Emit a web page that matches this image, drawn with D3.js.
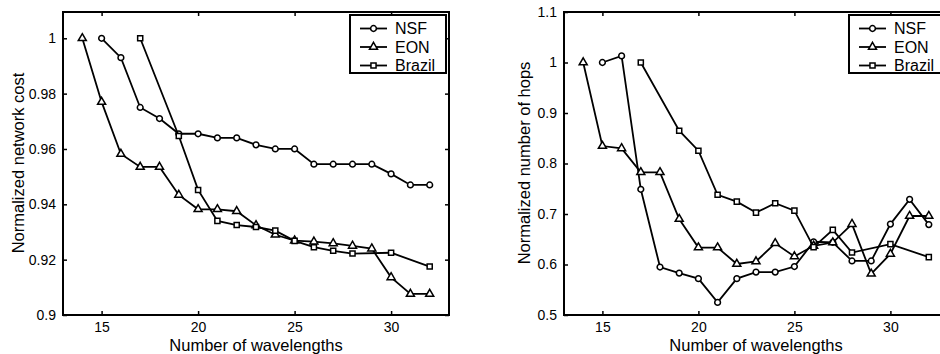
<!DOCTYPE html>
<html>
<head>
<meta charset="utf-8">
<script src="https://cdn.jsdelivr.net/npm/d3@7"></script>
<style>
  body { margin: 0; background: #fff; }
  svg { display: block; font-family: "Liberation Sans", Arial, sans-serif; }
</style>
</head>
<body>
<svg id="chart"></svg>
<script>
// tick labels
const xTicks = [15, 20, 25, 30];
const costTicks = [0.9, 0.92, 0.94, 0.96, 0.98, 1];
const hopsTicks = [0.5, 0.6, 0.7, 0.8, 0.9, 1, 1.1];

// number of wavelengths per series
const nsfWaves = [15, 16, 17, 18, 19, 20, 21, 22, 23, 24, 25, 26, 27, 28, 29, 30, 31, 32];
const eonWaves = [14, 15, 16, 17, 18, 19, 20, 21, 22, 23, 24, 25, 26, 27, 28, 29, 30, 31, 32];
const brazilWaves = [17, 19, 20, 21, 22, 23, 24, 25, 26, 27, 28, 30, 32];

// normalized network cost
const nsfCost = [1.0, 0.993, 0.975, 0.971, 0.9655, 0.9655, 0.964, 0.964, 0.9615, 0.960, 0.960, 0.9545, 0.9545, 0.9545, 0.9545, 0.951, 0.947, 0.947];
const eonCost = [1.0, 0.977, 0.9582, 0.9535, 0.9535, 0.9434, 0.9382, 0.9382, 0.9375, 0.9324, 0.929, 0.9269, 0.9265, 0.9259, 0.925, 0.924, 0.9136, 0.9076, 0.9076];
const brazilCost = [1.0, 0.9647, 0.9452, 0.934, 0.9325, 0.9318, 0.9305, 0.9268, 0.9245, 0.9232, 0.9222, 0.9225, 0.9175];

// normalized number of hops
const nsfHops = [1.0, 1.013, 0.749, 0.595, 0.583, 0.572, 0.525, 0.572, 0.585, 0.585, 0.596, 0.645, 0.644, 0.607, 0.607, 0.68, 0.729, 0.679];
const eonHops = [1.0, 0.8346, 0.830, 0.7826, 0.7826, 0.690, 0.6336, 0.6336, 0.601, 0.606, 0.642, 0.616, 0.637, 0.6435, 0.680, 0.5816, 0.621, 0.696, 0.696];
const brazilHops = [1.0, 0.865, 0.8253, 0.738, 0.7245, 0.7028, 0.7213, 0.7067, 0.6344, 0.6686, 0.6237, 0.6403, 0.6146];

const names = ['NSF', 'EON', 'Brazil'];
const shapes = [d3.symbolCircle, d3.symbolTriangle, d3.symbolSquare];
const sizes = [26, 28, 26];

const width = 940, height = 354;
const plotTop = 12, plotBottom = 315;

const svg = d3.select('#chart').attr('width', width).attr('height', height);

const panels = [
  { left: 63, right: 449, yDomain: [0.9, 1.0095], yTicks: costTicks, ylabel: 'Normalized network cost', labelX: 24,
    waves: [nsfWaves, eonWaves, brazilWaves], values: [nsfCost, eonCost, brazilCost] },
  { left: 564, right: 948, yDomain: [0.5, 1.1], yTicks: hopsTicks, ylabel: 'Normalized number of hops', labelX: 530,
    waves: [nsfWaves, eonWaves, brazilWaves], values: [nsfHops, eonHops, brazilHops] }
];

const fmt = d => String(+d.toFixed(2));

panels.forEach(p => {
  const x = d3.scaleLinear().domain([13, 33]).range([p.left, p.right]);
  const y = d3.scaleLinear().domain(p.yDomain).range([plotBottom, plotTop]);
  const g = svg.append('g');

  // axes, ticks pointing inward on all four sides
  const bx = g.append('g').attr('transform', `translate(0,${plotBottom})`)
    .call(d3.axisBottom(x).tickValues(xTicks).tickSizeInner(-4).tickSizeOuter(0).tickPadding(7));
  const tx = g.append('g').attr('transform', `translate(0,${plotTop})`)
    .call(d3.axisTop(x).tickValues(xTicks).tickSizeInner(-4).tickSizeOuter(0).tickFormat(''));
  const ly = g.append('g').attr('transform', `translate(${p.left},0)`)
    .call(d3.axisLeft(y).tickValues(p.yTicks).tickSizeInner(-4).tickSizeOuter(0).tickPadding(7).tickFormat(fmt));
  const ry = g.append('g').attr('transform', `translate(${p.right},0)`)
    .call(d3.axisRight(y).tickValues(p.yTicks).tickSizeInner(-4).tickSizeOuter(0).tickFormat(''));
  [bx, tx, ly, ry].forEach(a => {
    a.select('.domain').remove();
    a.selectAll('line').attr('stroke', '#000').attr('stroke-width', 1.5);
    a.selectAll('text').attr('fill', '#000').style('font-size', '14px')
      .style('font-family', '"Liberation Sans", Arial, sans-serif');
  });

  g.append('rect')
    .attr('x', p.left).attr('y', plotTop)
    .attr('width', p.right - p.left).attr('height', plotBottom - plotTop)
    .attr('fill', 'none').attr('stroke', '#000').attr('stroke-width', 2);

  // series
  const line = d3.line().x(d => x(d[0])).y(d => y(d[1]));
  p.values.forEach((vals, i) => {
    const pts = vals.map((v, j) => [p.waves[i][j], v]);
    g.append('path').datum(pts)
      .attr('d', line).attr('fill', 'none').attr('stroke', '#000').attr('stroke-width', 1.8);
    g.selectAll(null).data(pts).enter().append('path')
      .attr('transform', d => `translate(${x(d[0])},${y(d[1])})`)
      .attr('d', d3.symbol().type(shapes[i]).size(sizes[i]))
      .attr('fill', '#fff').attr('stroke', '#000').attr('stroke-width', 1.5);
  });

  // axis labels
  g.append('text')
    .attr('x', (p.left + p.right) / 2).attr('y', 351)
    .attr('text-anchor', 'middle').style('font-size', '16.5px')
    .text('Number of wavelengths');
  g.append('text')
    .attr('transform', `translate(${p.labelX},163) rotate(-90)`)
    .attr('text-anchor', 'middle').style('font-size', '16.5px')
    .text(p.ylabel);

  // legend
  const lx = p.right - 99, ly0 = 15;
  const legend = g.append('g').attr('transform', `translate(${lx},${ly0})`);
  legend.append('rect')
    .attr('width', 96).attr('height', 58)
    .attr('fill', '#fff').attr('stroke', '#000').attr('stroke-width', 2);
  names.forEach((name, i) => {
    const yy = 13.5 + i * 18.5;
    legend.append('line')
      .attr('x1', 10).attr('x2', 37).attr('y1', yy).attr('y2', yy)
      .attr('stroke', '#000').attr('stroke-width', 1.8);
    legend.append('path')
      .attr('transform', `translate(23.5,${yy})`)
      .attr('d', d3.symbol().type(shapes[i]).size(sizes[i]))
      .attr('fill', '#fff').attr('stroke', '#000').attr('stroke-width', 1.5);
    legend.append('text')
      .attr('x', 45).attr('y', yy).attr('dy', '0.36em')
      .style('font-size', '16px')
      .text(name);
  });
});
</script>
</body>
</html>
